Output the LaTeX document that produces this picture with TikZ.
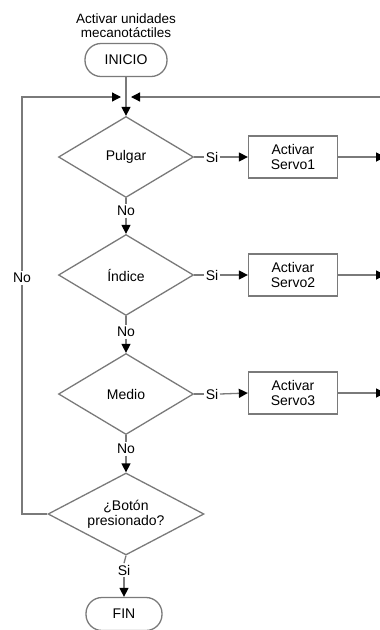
\documentclass[tikz,border=0pt]{standalone}
\usepackage{fontspec}
\setmainfont{Liberation Sans}
\usetikzlibrary{shapes.geometric,arrows.meta}
\definecolor{edge}{HTML}{7A7A7A}
\tikzset{
  txt/.style={font=\fontsize{14}{15}\selectfont, text=black},
  terminal/.style={txt, draw=edge, line width=1.3pt, rounded corners=16pt,
    minimum height=33pt, inner sep=0pt},
  decision/.style={txt, draw=edge, line width=1.3pt, diamond, aspect=1.7,
    inner sep=0pt, align=center},
  process/.style={txt, draw=edge, line width=1.3pt, minimum width=89pt,
    minimum height=42pt, inner sep=0pt, align=center},
  lbl/.style={txt, inner sep=1.5pt, fill=white},
  wire/.style={draw=edge, line width=1.3pt},
  arr/.style={wire, -{Triangle[length=9pt,width=9pt,fill=black,color=black]}},
}
\begin{document}
\begin{tikzpicture}[x=1pt,y=-1pt]
\useasboundingbox (0,0) rectangle (380,630);

% start and title
\node[txt, align=center, inner sep=0pt, font=\fontsize{13.5}{14}\selectfont] (title) at (126,26) {Activar unidades\\mecanotáctiles};
\node[terminal, minimum width=82pt] (inicio) at (126,60) {INICIO};

% decisions
\node[decision, minimum width=135pt, minimum height=81pt] (pulgar) at (126,157) {Pulgar};
\node[decision, minimum width=135pt, minimum height=81pt] (indice) at (126,275) {Índice};
\node[decision, minimum width=135pt, minimum height=81pt] (medio) at (126,394) {Medio};
\node[decision, minimum width=156pt, minimum height=82pt] (boton) at (126,514) {¿Botón\\presionado?};
\node[terminal, minimum width=76pt] (fin) at (124,614) {FIN};

% servo actions
\node[process] (s1) at (293,157) {Activar\\Servo1};
\node[process] (s2) at (293,275) {Activar\\Servo2};
\node[process] (s3) at (293,393) {Activar\\Servo3};

% loop junction and loop corners
\coordinate (j) at (126,97);
\coordinate (jl) at (121,97);
\coordinate (jr) at (131,97);
\coordinate (rtop) at (384,97);

% main flow
\draw[wire] (inicio.south) -- (j);
\draw[arr] (j) -- (pulgar.north);

\node[lbl] (no1) at (126,211) {No};
\draw[wire] (pulgar.south) -- (no1.north);
\draw[arr] (no1.south) -- (indice.north);

\node[lbl] (no2) at (126,332) {No};
\draw[wire] (indice.south) -- (no2.north);
\draw[arr] (no2.south) -- (medio.north);

\node[lbl] (no3) at (126,449) {No};
\draw[wire] (medio.south) -- (no3.north);
\draw[arr] (no3.south) -- (boton.north);

\node[lbl] (si4) at (124,570) {Si};
\draw[wire] (boton.south) -- (si4.north);
\draw[arr] (si4.south) -- (fin.north);

% yes branches
\foreach \d/\s in {pulgar/s1, indice/s2, medio/s3}{
  \node[lbl, anchor=west] (si-\d) at ([xshift=10pt]\d.east) {Si};
  \draw[wire] (\d.east) -- (si-\d.west);
  \draw[arr] (si-\d.east) -- (\s.west);
  \draw[arr] (\s.east) -- ++(47,0);
}

% return loop from the button decision
\node[lbl] (noloop) at (22,278) {No};
\draw[wire] (boton.west) -| (noloop.south);
\draw[arr] (noloop.north) |- (jl);
\draw[arr] (rtop) -- (jr);
\end{tikzpicture}
\end{document}
